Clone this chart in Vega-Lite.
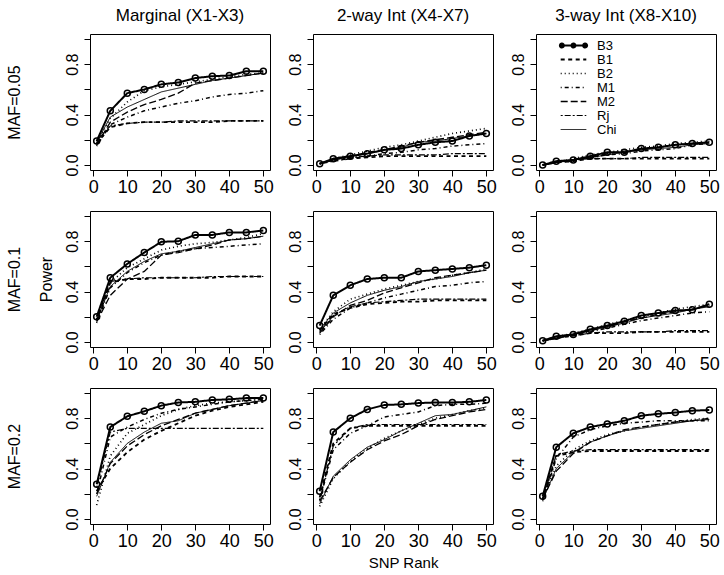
{
"$schema": "https://vega.github.io/schema/vega-lite/v6.json",
"padding": {"left": 5, "top": 6, "right": 0, "bottom": 0},
"columns": 3,
"align": "each",
"spacing": {"row": 13, "column": 12},
"resolve": {"scale": {"strokeDash": "independent", "strokeWidth": "independent"}, "legend": {"strokeDash": "independent", "strokeWidth": "independent"}},
"datasets": {
"p1": [
{"s":"B3","x":1,"y":0.19},{"s":"B3","x":5,"y":0.43},{"s":"B3","x":10,"y":0.57},{"s":"B3","x":15,"y":0.60},{"s":"B3","x":20,"y":0.64},{"s":"B3","x":25,"y":0.655},{"s":"B3","x":30,"y":0.69},{"s":"B3","x":35,"y":0.705},{"s":"B3","x":40,"y":0.71},{"s":"B3","x":45,"y":0.745},{"s":"B3","x":50,"y":0.745},
{"s":"B1","x":1,"y":0.17},{"s":"B1","x":5,"y":0.30},{"s":"B1","x":10,"y":0.33},{"s":"B1","x":15,"y":0.34},{"s":"B1","x":20,"y":0.34},{"s":"B1","x":25,"y":0.34},{"s":"B1","x":30,"y":0.34},{"s":"B1","x":35,"y":0.34},{"s":"B1","x":40,"y":0.35},{"s":"B1","x":45,"y":0.35},{"s":"B1","x":50,"y":0.35},
{"s":"B2","x":1,"y":0.17},{"s":"B2","x":5,"y":0.37},{"s":"B2","x":10,"y":0.50},{"s":"B2","x":15,"y":0.59},{"s":"B2","x":20,"y":0.62},{"s":"B2","x":25,"y":0.64},{"s":"B2","x":30,"y":0.66},{"s":"B2","x":35,"y":0.68},{"s":"B2","x":40,"y":0.70},{"s":"B2","x":45,"y":0.72},{"s":"B2","x":50,"y":0.73},
{"s":"M1","x":1,"y":0.15},{"s":"M1","x":5,"y":0.32},{"s":"M1","x":10,"y":0.38},{"s":"M1","x":15,"y":0.43},{"s":"M1","x":20,"y":0.46},{"s":"M1","x":25,"y":0.49},{"s":"M1","x":30,"y":0.51},{"s":"M1","x":35,"y":0.54},{"s":"M1","x":40,"y":0.56},{"s":"M1","x":45,"y":0.57},{"s":"M1","x":50,"y":0.59},
{"s":"M2","x":1,"y":0.16},{"s":"M2","x":5,"y":0.34},{"s":"M2","x":10,"y":0.42},{"s":"M2","x":15,"y":0.48},{"s":"M2","x":20,"y":0.52},{"s":"M2","x":25,"y":0.57},{"s":"M2","x":30,"y":0.65},{"s":"M2","x":35,"y":0.67},{"s":"M2","x":40,"y":0.69},{"s":"M2","x":45,"y":0.71},{"s":"M2","x":50,"y":0.73},
{"s":"Rj","x":1,"y":0.19},{"s":"Rj","x":5,"y":0.31},{"s":"Rj","x":10,"y":0.33},{"s":"Rj","x":15,"y":0.34},{"s":"Rj","x":20,"y":0.34},{"s":"Rj","x":25,"y":0.35},{"s":"Rj","x":30,"y":0.35},{"s":"Rj","x":35,"y":0.35},{"s":"Rj","x":40,"y":0.35},{"s":"Rj","x":45,"y":0.35},{"s":"Rj","x":50,"y":0.35},
{"s":"Chi","x":1,"y":0.18},{"s":"Chi","x":5,"y":0.38},{"s":"Chi","x":10,"y":0.46},{"s":"Chi","x":15,"y":0.52},{"s":"Chi","x":20,"y":0.58},{"s":"Chi","x":25,"y":0.61},{"s":"Chi","x":30,"y":0.64},{"s":"Chi","x":35,"y":0.67},{"s":"Chi","x":40,"y":0.69},{"s":"Chi","x":45,"y":0.71},{"s":"Chi","x":50,"y":0.73}
],
"p2": [
{"s":"B3","x":1,"y":0.01},{"s":"B3","x":5,"y":0.05},{"s":"B3","x":10,"y":0.07},{"s":"B3","x":15,"y":0.09},{"s":"B3","x":20,"y":0.12},{"s":"B3","x":25,"y":0.13},{"s":"B3","x":30,"y":0.16},{"s":"B3","x":35,"y":0.18},{"s":"B3","x":40,"y":0.19},{"s":"B3","x":45,"y":0.23},{"s":"B3","x":50,"y":0.25},
{"s":"B1","x":1,"y":0.01},{"s":"B1","x":5,"y":0.04},{"s":"B1","x":10,"y":0.05},{"s":"B1","x":15,"y":0.06},{"s":"B1","x":20,"y":0.07},{"s":"B1","x":25,"y":0.07},{"s":"B1","x":30,"y":0.07},{"s":"B1","x":35,"y":0.07},{"s":"B1","x":40,"y":0.07},{"s":"B1","x":45,"y":0.07},{"s":"B1","x":50,"y":0.07},
{"s":"B2","x":1,"y":0.01},{"s":"B2","x":5,"y":0.05},{"s":"B2","x":10,"y":0.08},{"s":"B2","x":15,"y":0.11},{"s":"B2","x":20,"y":0.14},{"s":"B2","x":25,"y":0.16},{"s":"B2","x":30,"y":0.19},{"s":"B2","x":35,"y":0.22},{"s":"B2","x":40,"y":0.25},{"s":"B2","x":45,"y":0.27},{"s":"B2","x":50,"y":0.29},
{"s":"M1","x":1,"y":0.01},{"s":"M1","x":5,"y":0.03},{"s":"M1","x":10,"y":0.05},{"s":"M1","x":15,"y":0.07},{"s":"M1","x":20,"y":0.09},{"s":"M1","x":25,"y":0.10},{"s":"M1","x":30,"y":0.12},{"s":"M1","x":35,"y":0.13},{"s":"M1","x":40,"y":0.15},{"s":"M1","x":45,"y":0.16},{"s":"M1","x":50,"y":0.17},
{"s":"M2","x":1,"y":0.01},{"s":"M2","x":5,"y":0.04},{"s":"M2","x":10,"y":0.07},{"s":"M2","x":15,"y":0.10},{"s":"M2","x":20,"y":0.12},{"s":"M2","x":25,"y":0.15},{"s":"M2","x":30,"y":0.18},{"s":"M2","x":35,"y":0.20},{"s":"M2","x":40,"y":0.22},{"s":"M2","x":45,"y":0.24},{"s":"M2","x":50,"y":0.26},
{"s":"Rj","x":1,"y":0.01},{"s":"Rj","x":5,"y":0.04},{"s":"Rj","x":10,"y":0.06},{"s":"Rj","x":15,"y":0.07},{"s":"Rj","x":20,"y":0.08},{"s":"Rj","x":25,"y":0.08},{"s":"Rj","x":30,"y":0.08},{"s":"Rj","x":35,"y":0.08},{"s":"Rj","x":40,"y":0.09},{"s":"Rj","x":45,"y":0.09},{"s":"Rj","x":50,"y":0.09},
{"s":"Chi","x":1,"y":0.01},{"s":"Chi","x":5,"y":0.04},{"s":"Chi","x":10,"y":0.07},{"s":"Chi","x":15,"y":0.09},{"s":"Chi","x":20,"y":0.12},{"s":"Chi","x":25,"y":0.14},{"s":"Chi","x":30,"y":0.18},{"s":"Chi","x":35,"y":0.19},{"s":"Chi","x":40,"y":0.21},{"s":"Chi","x":45,"y":0.23},{"s":"Chi","x":50,"y":0.25}
],
"p3": [
{"s":"B3","x":1,"y":0.00},{"s":"B3","x":5,"y":0.03},{"s":"B3","x":10,"y":0.04},{"s":"B3","x":15,"y":0.07},{"s":"B3","x":20,"y":0.10},{"s":"B3","x":25,"y":0.10},{"s":"B3","x":30,"y":0.13},{"s":"B3","x":35,"y":0.14},{"s":"B3","x":40,"y":0.16},{"s":"B3","x":45,"y":0.17},{"s":"B3","x":50,"y":0.18},
{"s":"B1","x":1,"y":0.00},{"s":"B1","x":5,"y":0.02},{"s":"B1","x":10,"y":0.03},{"s":"B1","x":15,"y":0.05},{"s":"B1","x":20,"y":0.05},{"s":"B1","x":25,"y":0.05},{"s":"B1","x":30,"y":0.05},{"s":"B1","x":35,"y":0.05},{"s":"B1","x":40,"y":0.05},{"s":"B1","x":45,"y":0.05},{"s":"B1","x":50,"y":0.05},
{"s":"B2","x":1,"y":0.00},{"s":"B2","x":5,"y":0.02},{"s":"B2","x":10,"y":0.05},{"s":"B2","x":15,"y":0.08},{"s":"B2","x":20,"y":0.10},{"s":"B2","x":25,"y":0.12},{"s":"B2","x":30,"y":0.14},{"s":"B2","x":35,"y":0.15},{"s":"B2","x":40,"y":0.17},{"s":"B2","x":45,"y":0.18},{"s":"B2","x":50,"y":0.19},
{"s":"M1","x":1,"y":0.00},{"s":"M1","x":5,"y":0.02},{"s":"M1","x":10,"y":0.03},{"s":"M1","x":15,"y":0.06},{"s":"M1","x":20,"y":0.08},{"s":"M1","x":25,"y":0.09},{"s":"M1","x":30,"y":0.11},{"s":"M1","x":35,"y":0.12},{"s":"M1","x":40,"y":0.13},{"s":"M1","x":45,"y":0.16},{"s":"M1","x":50,"y":0.17},
{"s":"M2","x":1,"y":0.00},{"s":"M2","x":5,"y":0.02},{"s":"M2","x":10,"y":0.04},{"s":"M2","x":15,"y":0.06},{"s":"M2","x":20,"y":0.09},{"s":"M2","x":25,"y":0.11},{"s":"M2","x":30,"y":0.12},{"s":"M2","x":35,"y":0.14},{"s":"M2","x":40,"y":0.16},{"s":"M2","x":45,"y":0.17},{"s":"M2","x":50,"y":0.18},
{"s":"Rj","x":1,"y":0.00},{"s":"Rj","x":5,"y":0.02},{"s":"Rj","x":10,"y":0.04},{"s":"Rj","x":15,"y":0.05},{"s":"Rj","x":20,"y":0.05},{"s":"Rj","x":25,"y":0.05},{"s":"Rj","x":30,"y":0.06},{"s":"Rj","x":35,"y":0.06},{"s":"Rj","x":40,"y":0.06},{"s":"Rj","x":45,"y":0.06},{"s":"Rj","x":50,"y":0.06},
{"s":"Chi","x":1,"y":0.00},{"s":"Chi","x":5,"y":0.02},{"s":"Chi","x":10,"y":0.04},{"s":"Chi","x":15,"y":0.06},{"s":"Chi","x":20,"y":0.08},{"s":"Chi","x":25,"y":0.10},{"s":"Chi","x":30,"y":0.12},{"s":"Chi","x":35,"y":0.13},{"s":"Chi","x":40,"y":0.14},{"s":"Chi","x":45,"y":0.16},{"s":"Chi","x":50,"y":0.17}
],
"p4": [
{"s":"B3","x":1,"y":0.20},{"s":"B3","x":5,"y":0.51},{"s":"B3","x":10,"y":0.62},{"s":"B3","x":15,"y":0.71},{"s":"B3","x":20,"y":0.795},{"s":"B3","x":25,"y":0.80},{"s":"B3","x":30,"y":0.85},{"s":"B3","x":35,"y":0.85},{"s":"B3","x":40,"y":0.87},{"s":"B3","x":45,"y":0.87},{"s":"B3","x":50,"y":0.885},
{"s":"B1","x":1,"y":0.17},{"s":"B1","x":5,"y":0.47},{"s":"B1","x":10,"y":0.50},{"s":"B1","x":15,"y":0.50},{"s":"B1","x":20,"y":0.51},{"s":"B1","x":25,"y":0.51},{"s":"B1","x":30,"y":0.51},{"s":"B1","x":35,"y":0.51},{"s":"B1","x":40,"y":0.52},{"s":"B1","x":45,"y":0.52},{"s":"B1","x":50,"y":0.52},
{"s":"B2","x":1,"y":0.18},{"s":"B2","x":5,"y":0.47},{"s":"B2","x":10,"y":0.59},{"s":"B2","x":15,"y":0.66},{"s":"B2","x":20,"y":0.73},{"s":"B2","x":25,"y":0.76},{"s":"B2","x":30,"y":0.78},{"s":"B2","x":35,"y":0.79},{"s":"B2","x":40,"y":0.81},{"s":"B2","x":45,"y":0.83},{"s":"B2","x":50,"y":0.86},
{"s":"M1","x":1,"y":0.15},{"s":"M1","x":5,"y":0.43},{"s":"M1","x":10,"y":0.55},{"s":"M1","x":15,"y":0.63},{"s":"M1","x":20,"y":0.69},{"s":"M1","x":25,"y":0.72},{"s":"M1","x":30,"y":0.74},{"s":"M1","x":35,"y":0.75},{"s":"M1","x":40,"y":0.76},{"s":"M1","x":45,"y":0.77},{"s":"M1","x":50,"y":0.78},
{"s":"M2","x":1,"y":0.16},{"s":"M2","x":5,"y":0.37},{"s":"M2","x":10,"y":0.50},{"s":"M2","x":15,"y":0.56},{"s":"M2","x":20,"y":0.69},{"s":"M2","x":25,"y":0.71},{"s":"M2","x":30,"y":0.74},{"s":"M2","x":35,"y":0.77},{"s":"M2","x":40,"y":0.81},{"s":"M2","x":45,"y":0.82},{"s":"M2","x":50,"y":0.84},
{"s":"Rj","x":1,"y":0.18},{"s":"Rj","x":5,"y":0.48},{"s":"Rj","x":10,"y":0.50},{"s":"Rj","x":15,"y":0.51},{"s":"Rj","x":20,"y":0.51},{"s":"Rj","x":25,"y":0.51},{"s":"Rj","x":30,"y":0.51},{"s":"Rj","x":35,"y":0.52},{"s":"Rj","x":40,"y":0.52},{"s":"Rj","x":45,"y":0.52},{"s":"Rj","x":50,"y":0.52},
{"s":"Chi","x":1,"y":0.17},{"s":"Chi","x":5,"y":0.44},{"s":"Chi","x":10,"y":0.56},{"s":"Chi","x":15,"y":0.64},{"s":"Chi","x":20,"y":0.70},{"s":"Chi","x":25,"y":0.72},{"s":"Chi","x":30,"y":0.75},{"s":"Chi","x":35,"y":0.78},{"s":"Chi","x":40,"y":0.81},{"s":"Chi","x":45,"y":0.82},{"s":"Chi","x":50,"y":0.84}
],
"p5": [
{"s":"B3","x":1,"y":0.13},{"s":"B3","x":5,"y":0.37},{"s":"B3","x":10,"y":0.45},{"s":"B3","x":15,"y":0.50},{"s":"B3","x":20,"y":0.51},{"s":"B3","x":25,"y":0.51},{"s":"B3","x":30,"y":0.56},{"s":"B3","x":35,"y":0.57},{"s":"B3","x":40,"y":0.58},{"s":"B3","x":45,"y":0.59},{"s":"B3","x":50,"y":0.61},
{"s":"B1","x":1,"y":0.09},{"s":"B1","x":5,"y":0.22},{"s":"B1","x":10,"y":0.27},{"s":"B1","x":15,"y":0.30},{"s":"B1","x":20,"y":0.31},{"s":"B1","x":25,"y":0.32},{"s":"B1","x":30,"y":0.32},{"s":"B1","x":35,"y":0.33},{"s":"B1","x":40,"y":0.33},{"s":"B1","x":45,"y":0.33},{"s":"B1","x":50,"y":0.33},
{"s":"B2","x":1,"y":0.10},{"s":"B2","x":5,"y":0.24},{"s":"B2","x":10,"y":0.34},{"s":"B2","x":15,"y":0.38},{"s":"B2","x":20,"y":0.42},{"s":"B2","x":25,"y":0.45},{"s":"B2","x":30,"y":0.48},{"s":"B2","x":35,"y":0.50},{"s":"B2","x":40,"y":0.53},{"s":"B2","x":45,"y":0.55},{"s":"B2","x":50,"y":0.58},
{"s":"M1","x":1,"y":0.06},{"s":"M1","x":5,"y":0.18},{"s":"M1","x":10,"y":0.27},{"s":"M1","x":15,"y":0.31},{"s":"M1","x":20,"y":0.35},{"s":"M1","x":25,"y":0.38},{"s":"M1","x":30,"y":0.41},{"s":"M1","x":35,"y":0.44},{"s":"M1","x":40,"y":0.45},{"s":"M1","x":45,"y":0.47},{"s":"M1","x":50,"y":0.48},
{"s":"M2","x":1,"y":0.07},{"s":"M2","x":5,"y":0.20},{"s":"M2","x":10,"y":0.29},{"s":"M2","x":15,"y":0.33},{"s":"M2","x":20,"y":0.39},{"s":"M2","x":25,"y":0.43},{"s":"M2","x":30,"y":0.47},{"s":"M2","x":35,"y":0.51},{"s":"M2","x":40,"y":0.53},{"s":"M2","x":45,"y":0.55},{"s":"M2","x":50,"y":0.57},
{"s":"Rj","x":1,"y":0.08},{"s":"Rj","x":5,"y":0.21},{"s":"Rj","x":10,"y":0.28},{"s":"Rj","x":15,"y":0.31},{"s":"Rj","x":20,"y":0.32},{"s":"Rj","x":25,"y":0.33},{"s":"Rj","x":30,"y":0.34},{"s":"Rj","x":35,"y":0.34},{"s":"Rj","x":40,"y":0.34},{"s":"Rj","x":45,"y":0.34},{"s":"Rj","x":50,"y":0.34},
{"s":"Chi","x":1,"y":0.10},{"s":"Chi","x":5,"y":0.23},{"s":"Chi","x":10,"y":0.31},{"s":"Chi","x":15,"y":0.37},{"s":"Chi","x":20,"y":0.41},{"s":"Chi","x":25,"y":0.44},{"s":"Chi","x":30,"y":0.48},{"s":"Chi","x":35,"y":0.50},{"s":"Chi","x":40,"y":0.52},{"s":"Chi","x":45,"y":0.55},{"s":"Chi","x":50,"y":0.57}
],
"p6": [
{"s":"B3","x":1,"y":0.01},{"s":"B3","x":5,"y":0.045},{"s":"B3","x":10,"y":0.06},{"s":"B3","x":15,"y":0.10},{"s":"B3","x":20,"y":0.13},{"s":"B3","x":25,"y":0.165},{"s":"B3","x":30,"y":0.21},{"s":"B3","x":35,"y":0.23},{"s":"B3","x":40,"y":0.25},{"s":"B3","x":45,"y":0.255},{"s":"B3","x":50,"y":0.30},
{"s":"B1","x":1,"y":0.01},{"s":"B1","x":5,"y":0.03},{"s":"B1","x":10,"y":0.05},{"s":"B1","x":15,"y":0.07},{"s":"B1","x":20,"y":0.07},{"s":"B1","x":25,"y":0.07},{"s":"B1","x":30,"y":0.08},{"s":"B1","x":35,"y":0.08},{"s":"B1","x":40,"y":0.08},{"s":"B1","x":45,"y":0.08},{"s":"B1","x":50,"y":0.08},
{"s":"B2","x":1,"y":0.01},{"s":"B2","x":5,"y":0.04},{"s":"B2","x":10,"y":0.07},{"s":"B2","x":15,"y":0.10},{"s":"B2","x":20,"y":0.14},{"s":"B2","x":25,"y":0.17},{"s":"B2","x":30,"y":0.20},{"s":"B2","x":35,"y":0.23},{"s":"B2","x":40,"y":0.26},{"s":"B2","x":45,"y":0.28},{"s":"B2","x":50,"y":0.30},
{"s":"M1","x":1,"y":0.01},{"s":"M1","x":5,"y":0.03},{"s":"M1","x":10,"y":0.06},{"s":"M1","x":15,"y":0.08},{"s":"M1","x":20,"y":0.11},{"s":"M1","x":25,"y":0.14},{"s":"M1","x":30,"y":0.17},{"s":"M1","x":35,"y":0.19},{"s":"M1","x":40,"y":0.21},{"s":"M1","x":45,"y":0.23},{"s":"M1","x":50,"y":0.24},
{"s":"M2","x":1,"y":0.01},{"s":"M2","x":5,"y":0.03},{"s":"M2","x":10,"y":0.06},{"s":"M2","x":15,"y":0.09},{"s":"M2","x":20,"y":0.12},{"s":"M2","x":25,"y":0.16},{"s":"M2","x":30,"y":0.19},{"s":"M2","x":35,"y":0.22},{"s":"M2","x":40,"y":0.24},{"s":"M2","x":45,"y":0.26},{"s":"M2","x":50,"y":0.29},
{"s":"Rj","x":1,"y":0.01},{"s":"Rj","x":5,"y":0.03},{"s":"Rj","x":10,"y":0.05},{"s":"Rj","x":15,"y":0.07},{"s":"Rj","x":20,"y":0.08},{"s":"Rj","x":25,"y":0.08},{"s":"Rj","x":30,"y":0.08},{"s":"Rj","x":35,"y":0.08},{"s":"Rj","x":40,"y":0.09},{"s":"Rj","x":45,"y":0.09},{"s":"Rj","x":50,"y":0.09},
{"s":"Chi","x":1,"y":0.01},{"s":"Chi","x":5,"y":0.03},{"s":"Chi","x":10,"y":0.06},{"s":"Chi","x":15,"y":0.09},{"s":"Chi","x":20,"y":0.12},{"s":"Chi","x":25,"y":0.15},{"s":"Chi","x":30,"y":0.19},{"s":"Chi","x":35,"y":0.21},{"s":"Chi","x":40,"y":0.23},{"s":"Chi","x":45,"y":0.26},{"s":"Chi","x":50,"y":0.28}
],
"p7": [
{"s":"B3","x":1,"y":0.275},{"s":"B3","x":5,"y":0.73},{"s":"B3","x":10,"y":0.815},{"s":"B3","x":15,"y":0.855},{"s":"B3","x":20,"y":0.90},{"s":"B3","x":25,"y":0.925},{"s":"B3","x":30,"y":0.93},{"s":"B3","x":35,"y":0.945},{"s":"B3","x":40,"y":0.95},{"s":"B3","x":45,"y":0.96},{"s":"B3","x":50,"y":0.96},
{"s":"B1","x":1,"y":0.22},{"s":"B1","x":5,"y":0.40},{"s":"B1","x":10,"y":0.53},{"s":"B1","x":15,"y":0.63},{"s":"B1","x":20,"y":0.70},{"s":"B1","x":25,"y":0.76},{"s":"B1","x":30,"y":0.82},{"s":"B1","x":35,"y":0.86},{"s":"B1","x":40,"y":0.89},{"s":"B1","x":45,"y":0.91},{"s":"B1","x":50,"y":0.93},
{"s":"B2","x":1,"y":0.11},{"s":"B2","x":5,"y":0.50},{"s":"B2","x":10,"y":0.68},{"s":"B2","x":15,"y":0.75},{"s":"B2","x":20,"y":0.82},{"s":"B2","x":25,"y":0.87},{"s":"B2","x":30,"y":0.90},{"s":"B2","x":35,"y":0.92},{"s":"B2","x":40,"y":0.93},{"s":"B2","x":45,"y":0.94},{"s":"B2","x":50,"y":0.95},
{"s":"M1","x":1,"y":0.20},{"s":"M1","x":5,"y":0.65},{"s":"M1","x":10,"y":0.73},{"s":"M1","x":15,"y":0.79},{"s":"M1","x":20,"y":0.84},{"s":"M1","x":25,"y":0.87},{"s":"M1","x":30,"y":0.89},{"s":"M1","x":35,"y":0.91},{"s":"M1","x":40,"y":0.93},{"s":"M1","x":45,"y":0.94},{"s":"M1","x":50,"y":0.95},
{"s":"M2","x":1,"y":0.20},{"s":"M2","x":5,"y":0.44},{"s":"M2","x":10,"y":0.58},{"s":"M2","x":15,"y":0.67},{"s":"M2","x":20,"y":0.74},{"s":"M2","x":25,"y":0.79},{"s":"M2","x":30,"y":0.84},{"s":"M2","x":35,"y":0.87},{"s":"M2","x":40,"y":0.90},{"s":"M2","x":45,"y":0.92},{"s":"M2","x":50,"y":0.94},
{"s":"Rj","x":1,"y":0.25},{"s":"Rj","x":5,"y":0.69},{"s":"Rj","x":10,"y":0.72},{"s":"Rj","x":15,"y":0.72},{"s":"Rj","x":20,"y":0.72},{"s":"Rj","x":25,"y":0.72},{"s":"Rj","x":30,"y":0.72},{"s":"Rj","x":35,"y":0.72},{"s":"Rj","x":40,"y":0.72},{"s":"Rj","x":45,"y":0.72},{"s":"Rj","x":50,"y":0.72},
{"s":"Chi","x":1,"y":0.18},{"s":"Chi","x":5,"y":0.45},{"s":"Chi","x":10,"y":0.60},{"s":"Chi","x":15,"y":0.69},{"s":"Chi","x":20,"y":0.76},{"s":"Chi","x":25,"y":0.78},{"s":"Chi","x":30,"y":0.84},{"s":"Chi","x":35,"y":0.87},{"s":"Chi","x":40,"y":0.90},{"s":"Chi","x":45,"y":0.92},{"s":"Chi","x":50,"y":0.94}
],
"p8": [
{"s":"B3","x":1,"y":0.22},{"s":"B3","x":5,"y":0.69},{"s":"B3","x":10,"y":0.80},{"s":"B3","x":15,"y":0.87},{"s":"B3","x":20,"y":0.905},{"s":"B3","x":25,"y":0.91},{"s":"B3","x":30,"y":0.92},{"s":"B3","x":35,"y":0.925},{"s":"B3","x":40,"y":0.925},{"s":"B3","x":45,"y":0.93},{"s":"B3","x":50,"y":0.945},
{"s":"B1","x":1,"y":0.17},{"s":"B1","x":5,"y":0.60},{"s":"B1","x":10,"y":0.72},{"s":"B1","x":15,"y":0.74},{"s":"B1","x":20,"y":0.74},{"s":"B1","x":25,"y":0.74},{"s":"B1","x":30,"y":0.74},{"s":"B1","x":35,"y":0.74},{"s":"B1","x":40,"y":0.74},{"s":"B1","x":45,"y":0.74},{"s":"B1","x":50,"y":0.74},
{"s":"B2","x":1,"y":0.10},{"s":"B2","x":5,"y":0.32},{"s":"B2","x":10,"y":0.46},{"s":"B2","x":15,"y":0.56},{"s":"B2","x":20,"y":0.64},{"s":"B2","x":25,"y":0.70},{"s":"B2","x":30,"y":0.75},{"s":"B2","x":35,"y":0.80},{"s":"B2","x":40,"y":0.83},{"s":"B2","x":45,"y":0.86},{"s":"B2","x":50,"y":0.88},
{"s":"M1","x":1,"y":0.15},{"s":"M1","x":5,"y":0.55},{"s":"M1","x":10,"y":0.68},{"s":"M1","x":15,"y":0.74},{"s":"M1","x":20,"y":0.81},{"s":"M1","x":25,"y":0.83},{"s":"M1","x":30,"y":0.85},{"s":"M1","x":35,"y":0.90},{"s":"M1","x":40,"y":0.91},{"s":"M1","x":45,"y":0.91},{"s":"M1","x":50,"y":0.92},
{"s":"M2","x":1,"y":0.14},{"s":"M2","x":5,"y":0.33},{"s":"M2","x":10,"y":0.45},{"s":"M2","x":15,"y":0.55},{"s":"M2","x":20,"y":0.62},{"s":"M2","x":25,"y":0.67},{"s":"M2","x":30,"y":0.74},{"s":"M2","x":35,"y":0.79},{"s":"M2","x":40,"y":0.82},{"s":"M2","x":45,"y":0.85},{"s":"M2","x":50,"y":0.87},
{"s":"Rj","x":1,"y":0.15},{"s":"Rj","x":5,"y":0.58},{"s":"Rj","x":10,"y":0.72},{"s":"Rj","x":15,"y":0.75},{"s":"Rj","x":20,"y":0.75},{"s":"Rj","x":25,"y":0.75},{"s":"Rj","x":30,"y":0.75},{"s":"Rj","x":35,"y":0.75},{"s":"Rj","x":40,"y":0.75},{"s":"Rj","x":45,"y":0.75},{"s":"Rj","x":50,"y":0.75},
{"s":"Chi","x":1,"y":0.12},{"s":"Chi","x":5,"y":0.34},{"s":"Chi","x":10,"y":0.47},{"s":"Chi","x":15,"y":0.57},{"s":"Chi","x":20,"y":0.63},{"s":"Chi","x":25,"y":0.70},{"s":"Chi","x":30,"y":0.76},{"s":"Chi","x":35,"y":0.82},{"s":"Chi","x":40,"y":0.83},{"s":"Chi","x":45,"y":0.86},{"s":"Chi","x":50,"y":0.89}
],
"p9": [
{"s":"B3","x":1,"y":0.18},{"s":"B3","x":5,"y":0.57},{"s":"B3","x":10,"y":0.68},{"s":"B3","x":15,"y":0.73},{"s":"B3","x":20,"y":0.755},{"s":"B3","x":25,"y":0.78},{"s":"B3","x":30,"y":0.82},{"s":"B3","x":35,"y":0.835},{"s":"B3","x":40,"y":0.845},{"s":"B3","x":45,"y":0.86},{"s":"B3","x":50,"y":0.865},
{"s":"B1","x":1,"y":0.15},{"s":"B1","x":5,"y":0.50},{"s":"B1","x":10,"y":0.53},{"s":"B1","x":15,"y":0.54},{"s":"B1","x":20,"y":0.54},{"s":"B1","x":25,"y":0.54},{"s":"B1","x":30,"y":0.54},{"s":"B1","x":35,"y":0.54},{"s":"B1","x":40,"y":0.54},{"s":"B1","x":45,"y":0.54},{"s":"B1","x":50,"y":0.54},
{"s":"B2","x":1,"y":0.17},{"s":"B2","x":5,"y":0.42},{"s":"B2","x":10,"y":0.55},{"s":"B2","x":15,"y":0.62},{"s":"B2","x":20,"y":0.67},{"s":"B2","x":25,"y":0.70},{"s":"B2","x":30,"y":0.73},{"s":"B2","x":35,"y":0.75},{"s":"B2","x":40,"y":0.77},{"s":"B2","x":45,"y":0.79},{"s":"B2","x":50,"y":0.80},
{"s":"M1","x":1,"y":0.14},{"s":"M1","x":5,"y":0.48},{"s":"M1","x":10,"y":0.65},{"s":"M1","x":15,"y":0.71},{"s":"M1","x":20,"y":0.74},{"s":"M1","x":25,"y":0.76},{"s":"M1","x":30,"y":0.77},{"s":"M1","x":35,"y":0.78},{"s":"M1","x":40,"y":0.78},{"s":"M1","x":45,"y":0.78},{"s":"M1","x":50,"y":0.78},
{"s":"M2","x":1,"y":0.16},{"s":"M2","x":5,"y":0.38},{"s":"M2","x":10,"y":0.52},{"s":"M2","x":15,"y":0.61},{"s":"M2","x":20,"y":0.66},{"s":"M2","x":25,"y":0.71},{"s":"M2","x":30,"y":0.73},{"s":"M2","x":35,"y":0.75},{"s":"M2","x":40,"y":0.77},{"s":"M2","x":45,"y":0.78},{"s":"M2","x":50,"y":0.80},
{"s":"Rj","x":1,"y":0.16},{"s":"Rj","x":5,"y":0.51},{"s":"Rj","x":10,"y":0.54},{"s":"Rj","x":15,"y":0.55},{"s":"Rj","x":20,"y":0.55},{"s":"Rj","x":25,"y":0.55},{"s":"Rj","x":30,"y":0.55},{"s":"Rj","x":35,"y":0.55},{"s":"Rj","x":40,"y":0.55},{"s":"Rj","x":45,"y":0.55},{"s":"Rj","x":50,"y":0.55},
{"s":"Chi","x":1,"y":0.15},{"s":"Chi","x":5,"y":0.40},{"s":"Chi","x":10,"y":0.53},{"s":"Chi","x":15,"y":0.61},{"s":"Chi","x":20,"y":0.66},{"s":"Chi","x":25,"y":0.70},{"s":"Chi","x":30,"y":0.72},{"s":"Chi","x":35,"y":0.74},{"s":"Chi","x":40,"y":0.76},{"s":"Chi","x":45,"y":0.78},{"s":"Chi","x":50,"y":0.79}
]
},
"concat": [
{"data": {"name": "p1"}, "width": 180, "height": 136, "title": "Marginal (X1-X3)",
 "encoding": {
  "x": {"field": "x", "type": "quantitative", "scale": {"domain": [-0.96, 51.96], "nice": false, "zero": false}, "axis": {"values": [0,10,20,30,40,50], "title": null}},
  "y": {"field": "y", "type": "quantitative", "scale": {"domain": [-0.04, 1.04], "nice": false, "zero": false}, "axis": {"values": [0,0.2,0.4,0.6,0.8,1], "labelExpr": "(abs(datum.value)<0.001||abs(datum.value-0.4)<0.001||abs(datum.value-0.8)<0.001) ? format(datum.value,'.1f') : ''", "title": ["MAF=0.05", " "]}}},
 "layer": [
  {"mark": {"type": "line", "color": "black"}, "encoding": {
    "strokeDash": {"field": "s", "type": "nominal", "scale": {"domain": ["B3","B1","B2","M1","M2","Rj","Chi"], "range": [[1,0],[4,3.5],[1,3],[1,3,4,3],[7,3],[2,2,6,2],[1,0]]}, "legend": null},
    "strokeWidth": {"field": "s", "type": "nominal", "scale": {"domain": ["B3","B1","B2","M1","M2","Rj","Chi"], "range": [2,1,1,1,1,1,1]}, "legend": null}}},
  {"transform": [{"filter": "datum.s === 'B3'"}], "mark": {"type": "point", "shape": "circle", "filled": false, "color": "black", "size": 36, "strokeWidth": 1.5, "opacity": 1}}
 ]},
{"data": {"name": "p2"}, "width": 180, "height": 136, "title": "2-way Int (X4-X7)",
 "encoding": {
  "x": {"field": "x", "type": "quantitative", "scale": {"domain": [-0.96, 51.96], "nice": false, "zero": false}, "axis": {"values": [0,10,20,30,40,50], "title": null}},
  "y": {"field": "y", "type": "quantitative", "scale": {"domain": [-0.04, 1.04], "nice": false, "zero": false}, "axis": {"values": [0,0.2,0.4,0.6,0.8,1], "labelExpr": "(abs(datum.value)<0.001||abs(datum.value-0.4)<0.001||abs(datum.value-0.8)<0.001) ? format(datum.value,'.1f') : ''", "title": null}}},
 "layer": [
  {"mark": {"type": "line", "color": "black"}, "encoding": {
    "strokeDash": {"field": "s", "type": "nominal", "scale": {"domain": ["B3","B1","B2","M1","M2","Rj","Chi"], "range": [[1,0],[4,3.5],[1,3],[1,3,4,3],[7,3],[2,2,6,2],[1,0]]}, "legend": null},
    "strokeWidth": {"field": "s", "type": "nominal", "scale": {"domain": ["B3","B1","B2","M1","M2","Rj","Chi"], "range": [2,1,1,1,1,1,1]}, "legend": null}}},
  {"transform": [{"filter": "datum.s === 'B3'"}], "mark": {"type": "point", "shape": "circle", "filled": false, "color": "black", "size": 36, "strokeWidth": 1.5, "opacity": 1}}
 ]},
{"data": {"name": "p3"}, "width": 180, "height": 136, "title": "3-way Int (X8-X10)",
 "encoding": {
  "x": {"field": "x", "type": "quantitative", "scale": {"domain": [-0.96, 51.96], "nice": false, "zero": false}, "axis": {"values": [0,10,20,30,40,50], "title": null}},
  "y": {"field": "y", "type": "quantitative", "scale": {"domain": [-0.04, 1.04], "nice": false, "zero": false}, "axis": {"values": [0,0.2,0.4,0.6,0.8,1], "labelExpr": "(abs(datum.value)<0.001||abs(datum.value-0.4)<0.001||abs(datum.value-0.8)<0.001) ? format(datum.value,'.1f') : ''", "title": null}}},
 "layer": [
  {"mark": {"type": "line", "color": "black"}, "encoding": {
    "strokeDash": {"field": "s", "type": "nominal", "scale": {"domain": ["B3","B1","B2","M1","M2","Rj","Chi"], "range": [[1,0],[4,3.5],[1,3],[1,3,4,3],[7,3],[2,2,6,2],[1,0]]},
      "legend": {"title": null, "orient": "none", "legendX": 31, "legendY": 5, "padding": 0, "symbolType": "M-3.2,0H3.2", "symbolSize": 64, "symbolStrokeColor": "black", "symbolFillColor": "transparent", "symbolStrokeWidth": 1, "labelFontSize": 13, "labelColor": "black", "labelOffset": 17, "rowPadding": 0,
        "encode": {"symbols": {"update": {"shape": {"signal": "datum.value === 'B3' ? 'M-3.2,0H3.2M-2.4,0A0.5,0.5,0,1,1,-3.4,0A0.5,0.5,0,1,1,-2.4,0M0.5,0A0.5,0.5,0,1,1,-0.5,0A0.5,0.5,0,1,1,0.5,0M3.4,0A0.5,0.5,0,1,1,2.4,0A0.5,0.5,0,1,1,3.4,0' : 'M-3.2,0H3.2'"}, "strokeWidth": {"signal": "datum.value === 'B3' ? 2 : 1"}}}}}},
    "strokeWidth": {"field": "s", "type": "nominal", "scale": {"domain": ["B3","B1","B2","M1","M2","Rj","Chi"], "range": [2,1,1,1,1,1,1]}, "legend": null}}},
  {"transform": [{"filter": "datum.s === 'B3'"}], "mark": {"type": "point", "shape": "circle", "filled": false, "color": "black", "size": 36, "strokeWidth": 1.5, "opacity": 1}}
 ]},
{"data": {"name": "p4"}, "width": 180, "height": 136,
 "encoding": {
  "x": {"field": "x", "type": "quantitative", "scale": {"domain": [-0.96, 51.96], "nice": false, "zero": false}, "axis": {"values": [0,10,20,30,40,50], "title": null}},
  "y": {"field": "y", "type": "quantitative", "scale": {"domain": [-0.04, 1.04], "nice": false, "zero": false}, "axis": {"values": [0,0.2,0.4,0.6,0.8,1], "labelExpr": "(abs(datum.value)<0.001||abs(datum.value-0.4)<0.001||abs(datum.value-0.8)<0.001) ? format(datum.value,'.1f') : ''", "title": ["MAF=0.1", "Power"]}}},
 "layer": [
  {"mark": {"type": "line", "color": "black"}, "encoding": {
    "strokeDash": {"field": "s", "type": "nominal", "scale": {"domain": ["B3","B1","B2","M1","M2","Rj","Chi"], "range": [[1,0],[4,3.5],[1,3],[1,3,4,3],[7,3],[2,2,6,2],[1,0]]}, "legend": null},
    "strokeWidth": {"field": "s", "type": "nominal", "scale": {"domain": ["B3","B1","B2","M1","M2","Rj","Chi"], "range": [2,1,1,1,1,1,1]}, "legend": null}}},
  {"transform": [{"filter": "datum.s === 'B3'"}], "mark": {"type": "point", "shape": "circle", "filled": false, "color": "black", "size": 36, "strokeWidth": 1.5, "opacity": 1}}
 ]},
{"data": {"name": "p5"}, "width": 180, "height": 136,
 "encoding": {
  "x": {"field": "x", "type": "quantitative", "scale": {"domain": [-0.96, 51.96], "nice": false, "zero": false}, "axis": {"values": [0,10,20,30,40,50], "title": null}},
  "y": {"field": "y", "type": "quantitative", "scale": {"domain": [-0.04, 1.04], "nice": false, "zero": false}, "axis": {"values": [0,0.2,0.4,0.6,0.8,1], "labelExpr": "(abs(datum.value)<0.001||abs(datum.value-0.4)<0.001||abs(datum.value-0.8)<0.001) ? format(datum.value,'.1f') : ''", "title": null}}},
 "layer": [
  {"mark": {"type": "line", "color": "black"}, "encoding": {
    "strokeDash": {"field": "s", "type": "nominal", "scale": {"domain": ["B3","B1","B2","M1","M2","Rj","Chi"], "range": [[1,0],[4,3.5],[1,3],[1,3,4,3],[7,3],[2,2,6,2],[1,0]]}, "legend": null},
    "strokeWidth": {"field": "s", "type": "nominal", "scale": {"domain": ["B3","B1","B2","M1","M2","Rj","Chi"], "range": [2,1,1,1,1,1,1]}, "legend": null}}},
  {"transform": [{"filter": "datum.s === 'B3'"}], "mark": {"type": "point", "shape": "circle", "filled": false, "color": "black", "size": 36, "strokeWidth": 1.5, "opacity": 1}}
 ]},
{"data": {"name": "p6"}, "width": 180, "height": 136,
 "encoding": {
  "x": {"field": "x", "type": "quantitative", "scale": {"domain": [-0.96, 51.96], "nice": false, "zero": false}, "axis": {"values": [0,10,20,30,40,50], "title": null}},
  "y": {"field": "y", "type": "quantitative", "scale": {"domain": [-0.04, 1.04], "nice": false, "zero": false}, "axis": {"values": [0,0.2,0.4,0.6,0.8,1], "labelExpr": "(abs(datum.value)<0.001||abs(datum.value-0.4)<0.001||abs(datum.value-0.8)<0.001) ? format(datum.value,'.1f') : ''", "title": null}}},
 "layer": [
  {"mark": {"type": "line", "color": "black"}, "encoding": {
    "strokeDash": {"field": "s", "type": "nominal", "scale": {"domain": ["B3","B1","B2","M1","M2","Rj","Chi"], "range": [[1,0],[4,3.5],[1,3],[1,3,4,3],[7,3],[2,2,6,2],[1,0]]}, "legend": null},
    "strokeWidth": {"field": "s", "type": "nominal", "scale": {"domain": ["B3","B1","B2","M1","M2","Rj","Chi"], "range": [2,1,1,1,1,1,1]}, "legend": null}}},
  {"transform": [{"filter": "datum.s === 'B3'"}], "mark": {"type": "point", "shape": "circle", "filled": false, "color": "black", "size": 36, "strokeWidth": 1.5, "opacity": 1}}
 ]},
{"data": {"name": "p7"}, "width": 180, "height": 136,
 "encoding": {
  "x": {"field": "x", "type": "quantitative", "scale": {"domain": [-0.96, 51.96], "nice": false, "zero": false}, "axis": {"values": [0,10,20,30,40,50], "title": null}},
  "y": {"field": "y", "type": "quantitative", "scale": {"domain": [-0.04, 1.04], "nice": false, "zero": false}, "axis": {"values": [0,0.2,0.4,0.6,0.8,1], "labelExpr": "(abs(datum.value)<0.001||abs(datum.value-0.4)<0.001||abs(datum.value-0.8)<0.001) ? format(datum.value,'.1f') : ''", "title": ["MAF=0.2", " "]}}},
 "layer": [
  {"mark": {"type": "line", "color": "black"}, "encoding": {
    "strokeDash": {"field": "s", "type": "nominal", "scale": {"domain": ["B3","B1","B2","M1","M2","Rj","Chi"], "range": [[1,0],[4,3.5],[1,3],[1,3,4,3],[7,3],[2,2,6,2],[1,0]]}, "legend": null},
    "strokeWidth": {"field": "s", "type": "nominal", "scale": {"domain": ["B3","B1","B2","M1","M2","Rj","Chi"], "range": [2,1,1,1,1,1,1]}, "legend": null}}},
  {"transform": [{"filter": "datum.s === 'B3'"}], "mark": {"type": "point", "shape": "circle", "filled": false, "color": "black", "size": 36, "strokeWidth": 1.5, "opacity": 1}}
 ]},
{"data": {"name": "p8"}, "width": 180, "height": 136,
 "encoding": {
  "x": {"field": "x", "type": "quantitative", "scale": {"domain": [-0.96, 51.96], "nice": false, "zero": false}, "axis": {"values": [0,10,20,30,40,50], "title": "SNP Rank"}},
  "y": {"field": "y", "type": "quantitative", "scale": {"domain": [-0.04, 1.04], "nice": false, "zero": false}, "axis": {"values": [0,0.2,0.4,0.6,0.8,1], "labelExpr": "(abs(datum.value)<0.001||abs(datum.value-0.4)<0.001||abs(datum.value-0.8)<0.001) ? format(datum.value,'.1f') : ''", "title": null}}},
 "layer": [
  {"mark": {"type": "line", "color": "black"}, "encoding": {
    "strokeDash": {"field": "s", "type": "nominal", "scale": {"domain": ["B3","B1","B2","M1","M2","Rj","Chi"], "range": [[1,0],[4,3.5],[1,3],[1,3,4,3],[7,3],[2,2,6,2],[1,0]]}, "legend": null},
    "strokeWidth": {"field": "s", "type": "nominal", "scale": {"domain": ["B3","B1","B2","M1","M2","Rj","Chi"], "range": [2,1,1,1,1,1,1]}, "legend": null}}},
  {"transform": [{"filter": "datum.s === 'B3'"}], "mark": {"type": "point", "shape": "circle", "filled": false, "color": "black", "size": 36, "strokeWidth": 1.5, "opacity": 1}}
 ]},
{"data": {"name": "p9"}, "width": 180, "height": 136,
 "encoding": {
  "x": {"field": "x", "type": "quantitative", "scale": {"domain": [-0.96, 51.96], "nice": false, "zero": false}, "axis": {"values": [0,10,20,30,40,50], "title": null}},
  "y": {"field": "y", "type": "quantitative", "scale": {"domain": [-0.04, 1.04], "nice": false, "zero": false}, "axis": {"values": [0,0.2,0.4,0.6,0.8,1], "labelExpr": "(abs(datum.value)<0.001||abs(datum.value-0.4)<0.001||abs(datum.value-0.8)<0.001) ? format(datum.value,'.1f') : ''", "title": null}}},
 "layer": [
  {"mark": {"type": "line", "color": "black"}, "encoding": {
    "strokeDash": {"field": "s", "type": "nominal", "scale": {"domain": ["B3","B1","B2","M1","M2","Rj","Chi"], "range": [[1,0],[4,3.5],[1,3],[1,3,4,3],[7,3],[2,2,6,2],[1,0]]}, "legend": null},
    "strokeWidth": {"field": "s", "type": "nominal", "scale": {"domain": ["B3","B1","B2","M1","M2","Rj","Chi"], "range": [2,1,1,1,1,1,1]}, "legend": null}}},
  {"transform": [{"filter": "datum.s === 'B3'"}], "mark": {"type": "point", "shape": "circle", "filled": false, "color": "black", "size": 36, "strokeWidth": 1.5, "opacity": 1}}
 ]}
],
"config": {
 "font": "Liberation Sans",
 "background": "white",
 "view": {"stroke": "black", "strokeWidth": 1},
 "axis": {"grid": false, "domain": false, "ticks": true, "tickColor": "black", "tickSize": 6, "tickWidth": 1, "labelColor": "black", "titleColor": "black", "titleFontWeight": "normal", "labelFlush": false, "labelOverlap": false, "labelFont": "Liberation Sans", "titleFont": "Liberation Sans"},
 "axisX": {"labelFontSize": 18, "labelPadding": 2, "titleFontSize": 15, "titlePadding": 5},
 "axisY": {"labelFontSize": 16, "labelAngle": -90, "labelAlign": "center", "labelBaseline": "bottom", "labelPadding": 4, "titleFontSize": 16, "titleLineHeight": 32, "titlePadding": 10},
 "title": {"fontSize": 17, "fontWeight": "normal", "color": "black", "offset": 9, "font": "Liberation Sans"}
}
}
